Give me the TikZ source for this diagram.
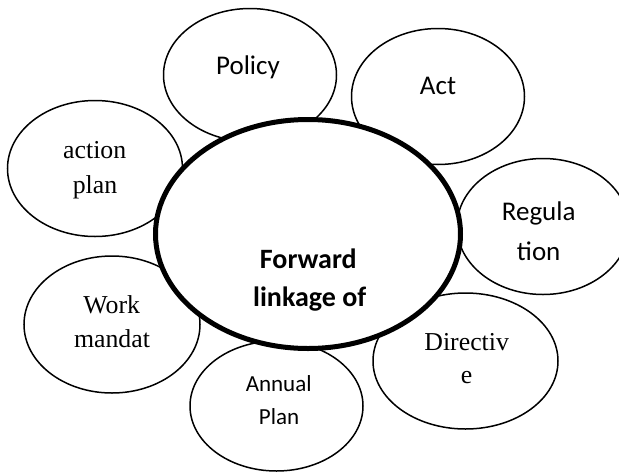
\documentclass[tikz,border=0pt]{standalone}
\usepackage{fontspec}
\setmainfont{Liberation Serif}
\newfontfamily\calfont{Carlito}
\usetikzlibrary{shapes.geometric}
\begin{document}
\begin{tikzpicture}[x=1pt,y=-1pt,
  petal/.style={draw, ellipse, fill=white, line width=1.5pt, inner sep=0pt},
  hub/.style={draw, ellipse, fill=white, line width=5pt, inner sep=0pt},
  sanslab/.style={anchor=base, inner sep=0pt, font=\calfont\fontsize{27}{32}\selectfont},
  smallsans/.style={anchor=base, inner sep=0pt, font=\calfont\fontsize{23}{28}\selectfont},
  boldsans/.style={anchor=base, inner sep=0pt, font=\calfont\bfseries\fontsize{28}{34}\selectfont},
  seriflab/.style={anchor=base, inner sep=0pt, font=\fontsize{25.8}{31}\selectfont}]
\useasboundingbox (0,0) rectangle (619,472);
\clip (0,0) rectangle (619,472);
% petals
\node[petal, minimum width=173pt, minimum height=133pt] (policy) at (250,75) {};
\node[petal, minimum width=173pt, minimum height=136pt] (act) at (438,96.5) {};
\node[petal, minimum width=175pt, minimum height=136pt] (action) at (95,168.5) {};
\node[petal, minimum width=172pt, minimum height=136pt] (regulation) at (543,226.5) {};
\node[petal, minimum width=176pt, minimum height=137pt] (work) at (112,324.5) {};
\node[petal, minimum width=173pt, minimum height=130pt] (annual) at (276.5,406) {};
\node[petal, minimum width=185pt, minimum height=136pt] (directive) at (465.5,361) {};
% hub
\node[hub, minimum width=305pt, minimum height=229pt] (hubnode) at (308,234) {};
% labels
\node[sanslab] (policyT) at (248,74) {Policy};
\node[sanslab] (actT) at (438,94.3) {Act};
\node[seriflab] (actionT1) at (94.7,158) {action};
\node[seriflab] (actionT2) at (95,193) {plan};
\node[sanslab] (regT1) at (538.7,220) {Regula};
\node[sanslab] (regT2) at (538.7,260) {tion};
\node[boldsans] (hubT1) at (308.3,268) {Forward};
\node[boldsans] (hubT2) at (309.7,306) {linkage of};
\node[seriflab] (workT1) at (111.7,313) {Work};
\node[seriflab] (workT2) at (112,347) {mandat};
\node[smallsans] (annualT1) at (278.7,391) {Annual};
\node[smallsans] (annualT2) at (279,424) {Plan};
\node[seriflab] (dirT1) at (466.7,350) {Directiv};
\node[seriflab] (dirT2) at (466.7,383.7) {e};
\end{tikzpicture}
\end{document}
